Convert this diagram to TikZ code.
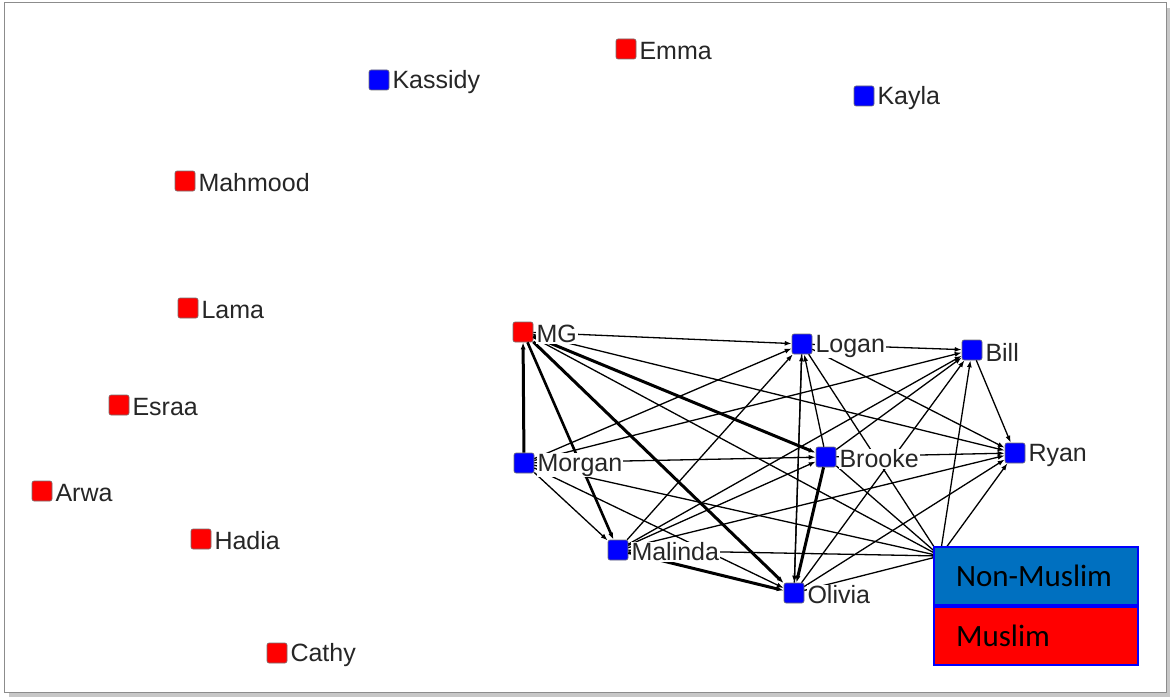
\documentclass[tikz,border=0pt]{standalone}
\usepackage{fontspec}
\setmainfont{Liberation Sans}
\newfontfamily\legendfont{Carlito}
\usepackage{xcolor}
\usepackage{tikz}
\usetikzlibrary{positioning, arrows.meta}

\definecolor{legblue}{RGB}{0,112,192}

\begin{document}
\begin{tikzpicture}[x=1pt, y=-1pt]
            % Styles
            \tikzstyle{actor} = [rectangle, rounded corners=2pt, draw=black!55, line width=0.6pt, minimum size=20pt, inner sep=0pt]
            \tikzstyle{nonmuslim} = [actor, fill=blue]
            \tikzstyle{muslim} = [actor, fill=red]
            \tikzstyle{lbl} = [font=\fontsize{25}{29}\selectfont, text=black!85, fill=white, inner sep=1pt, yshift=-2pt]
            \tikzstyle{link} = [->, >={Latex[length=7pt,width=5pt]}, line width=1.3pt]
            \tikzstyle{strong} = [link, line width=3pt]
            \tikzstyle{legbox} = [rectangle, draw=blue, line width=2pt, minimum height=58pt, text width=160pt, inner xsep=22pt, align=left, font=\legendfont\fontsize{31}{35}\selectfont]

            % Frame
            \useasboundingbox (0,0) rectangle (1172,698);
            \fill[black!22] (9,8) rectangle (1170,697);
            \draw[black!45, fill=white, line width=1pt] (4,3) rectangle (1166,692);

            % Isolates
            \node[muslim] (emma) at (626,49) {};
            \node[nonmuslim] (kassidy) at (379,80) {};
            \node[nonmuslim] (kayla) at (864,96) {};
            \node[muslim] (mahmood) at (185,181) {};
            \node[muslim] (lama) at (188,308) {};
            \node[muslim] (esraa) at (119,405) {};
            \node[muslim] (arwa) at (42,491) {};
            \node[muslim] (hadia) at (201,539) {};
            \node[muslim] (cathy) at (277,653) {};

            % Connected group
            \node[muslim] (mg) at (523,332) {};
            \node[nonmuslim] (logan) at (802,344) {};
            \node[nonmuslim] (bill) at (972,350) {};
            \node[nonmuslim] (morgan) at (524,463) {};
            \node[nonmuslim] (brooke) at (826,457) {};
            \node[nonmuslim] (ryan) at (1015,453) {};
            \node[nonmuslim] (malinda) at (618,550) {};
            \node[nonmuslim] (olivia) at (794,593) {};
            \coordinate (hidden) at (940,556);

            % Ties from MG and Morgan
            \draw[strong] (morgan) -- (mg);
            \draw[link] (mg) -- (logan);
            \draw[link] (mg) -- (ryan);
            \draw[strong] (mg) -- (brooke);
            \draw[strong] (mg) -- (olivia);
            \draw[link, line width=2.6pt] (mg) -- (malinda);
            \draw[link] (mg) -- (hidden);
            \draw[link] (morgan) -- (logan);
            \draw[link] (morgan) -- (bill);
            \draw[link] (morgan) -- (brooke);
            \draw[link] (morgan) -- (malinda);
            \draw[link] (morgan) -- (olivia);
            \draw[link] (morgan) -- (hidden);

            % Ties from Logan, Brooke and Bill
            \draw[link] (logan) -- (bill);
            \draw[link] (logan) -- (ryan);
            \draw[link] (logan) -- (olivia);
            \draw[link] (logan) -- (hidden);
            \draw[link] (brooke) -- (logan);
            \draw[link] (brooke) -- (bill);
            \draw[link] (brooke) -- (ryan);
            \draw[strong] (brooke) -- (olivia);
            \draw[link] (brooke) -- (hidden);
            \draw[link] (bill) -- (ryan);

            % Ties from Malinda and Olivia
            \draw[link] (malinda) -- (logan);
            \draw[link] (malinda) -- (brooke);
            \draw[link] (malinda) -- (bill);
            \draw[link] (malinda) -- (ryan);
            \draw[strong] (malinda) -- (olivia);
            \draw[link] (malinda) -- (hidden);
            \draw[link] (olivia) -- (logan);
            \draw[link] (olivia) -- (bill);
            \draw[link] (olivia) -- (ryan);
            \draw[link] (olivia) -- (hidden);

            % Ties from the node under the legend
            \draw[link] (hidden) -- (bill);
            \draw[link] (hidden) -- (ryan);

            % Labels
            \node[lbl, right=2pt of emma] (emmatxt) {Emma};
            \node[lbl, right=2pt of kassidy] (kassidytxt) {Kassidy};
            \node[lbl, right=2pt of kayla] (kaylatxt) {Kayla};
            \node[lbl, right=2pt of mahmood] (mahmoodtxt) {Mahmood};
            \node[lbl, right=2pt of lama] (lamatxt) {Lama};
            \node[lbl, right=2pt of esraa] (esraatxt) {Esraa};
            \node[lbl, right=2pt of arwa] (arwatxt) {Arwa};
            \node[lbl, right=2pt of hadia] (hadiatxt) {Hadia};
            \node[lbl, right=2pt of cathy] (cathytxt) {Cathy};
            \node[lbl, right=2pt of mg] (mgtxt) {MG};
            \node[lbl, right=2pt of logan] (logantxt) {Logan};
            \node[lbl, right=2pt of bill] (billtxt) {Bill};
            \node[lbl, right=2pt of morgan] (morgantxt) {Morgan};
            \node[lbl, right=2pt of brooke] (brooketxt) {Brooke};
            \node[lbl, right=2pt of ryan] (ryantxt) {Ryan};
            \node[lbl, right=2pt of malinda] (malindatxt) {Malinda};
            \node[lbl, right=2pt of olivia] (oliviatxt) {Olivia};

            % Legend
            \node[legbox, fill=legblue, anchor=north west] (nonmus) at (933,546) {Non-Muslim};
            \node[legbox, fill=red, below=0pt of nonmus] (mus) {Muslim};
\end{tikzpicture}
\end{document}
